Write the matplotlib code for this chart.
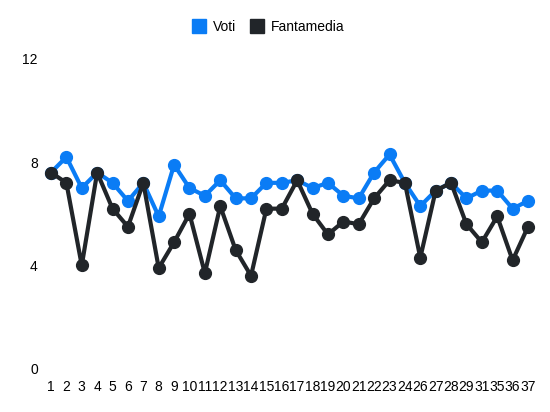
import matplotlib
matplotlib.use("Agg")
import matplotlib.pyplot as plt
from matplotlib.lines import Line2D

giornate = ["1", "2", "3", "4", "5", "6", "7", "8", "9", "10", "11", "12", "13", "14", "15", "16",
            "17", "18", "19", "20", "21", "22", "23", "24", "26", "27", "28", "29", "31", "35", "36", "37"]
voti = [7.6, 8.2, 7.0, 7.6, 7.2, 6.5, 7.2, 5.9, 7.9, 7.0, 6.7, 7.3, 6.6, 6.6, 7.2, 7.2,
        7.3, 7.0, 7.2, 6.7, 6.6, 7.6, 8.3, 7.2, 6.3, 6.9, 7.2, 6.6, 6.9, 6.9, 6.2, 6.5]
fantamedia = [7.6, 7.2, 4.0, 7.6, 6.2, 5.5, 7.2, 3.9, 4.9, 6.0, 3.7, 6.3, 4.6, 3.6, 6.2, 6.2,
              7.3, 6.0, 5.2, 5.7, 5.6, 6.6, 7.3, 7.2, 4.3, 6.9, 7.2, 5.6, 4.9, 5.9, 4.2, 5.5]

BLUE = "#0a7cf5"
DARK = "#212529"

plt.rcParams['font.family'] = ['Liberation Sans', 'DejaVu Sans']

fig = plt.figure(figsize=(5.5, 4.12), dpi=100)
ax = fig.add_axes([0.0927, 0.105, 0.8673, 0.752])

x = list(range(len(giornate)))
ax.plot(x, voti, color=BLUE, lw=3, marker="o", ms=8.5, clip_on=False, zorder=3)
ax.plot(x, fantamedia, color=DARK, lw=3, marker="o", ms=8.5, clip_on=False, zorder=4)

ax.set_xlim(0, len(giornate) - 1)
ax.set_ylim(0, 12)
ax.set_yticks([0, 4, 8, 12])
ax.set_xticks(x)
ax.set_xticklabels(giornate)
ax.tick_params(length=0, labelsize=10, colors="black")
ax.tick_params(axis="y", pad=9.5)
ax.tick_params(axis="x", pad=8)
for s in ax.spines.values():
    s.set_visible(False)

handles = [Line2D([], [], ls="none", marker="s", ms=10, color=BLUE, label="Voti"),
           Line2D([], [], ls="none", marker="s", ms=10, color=DARK, label="Fantamedia")]
fig.legend(handles=handles, loc="center", bbox_to_anchor=(0.488, 0.934), ncol=2, frameon=False,
           fontsize=10, handletextpad=0.5, columnspacing=1.0, handlelength=1.0)

fig.savefig("out.png", dpi=100)
